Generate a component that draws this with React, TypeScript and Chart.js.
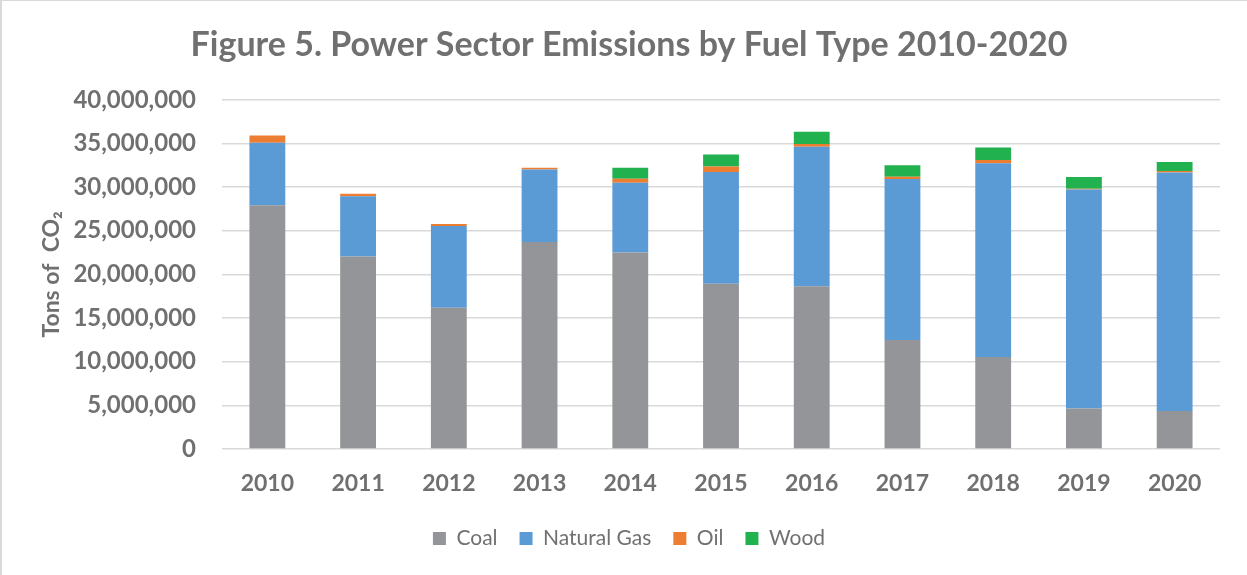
import React, { useEffect, useRef } from "react";
import { Chart, registerables } from "chart.js";

Chart.register(...registerables);

const years = ["2010", "2011", "2012", "2013", "2014", "2015", "2016", "2017", "2018", "2019", "2020"];
const coal = [27930000, 22050000, 16180000, 23700000, 22510000, 18940000, 18630000, 12490000, 10530000, 4650000, 4340000];
const naturalGas = [7140000, 6910000, 9360000, 8330000, 7990000, 12790000, 15980000, 18430000, 22190000, 25070000, 27340000];
const oil = [840000, 270000, 230000, 190000, 460000, 640000, 340000, 270000, 390000, 100000, 160000];
const wood = [0, 0, 0, 0, 1270000, 1350000, 1390000, 1300000, 1420000, 1330000, 1040000];

const TEXT = "#707070";
const FONT = "Lato, 'Open Sans', sans-serif";

export default function App() {
  const ref = useRef<HTMLCanvasElement | null>(null);

  useEffect(() => {
    if (!ref.current) return;
    const chart = new Chart(ref.current, {
      type: "bar",
      data: {
        labels: years,
        datasets: [
          { label: "Coal", data: coal, backgroundColor: "#939598" },
          { label: "Natural Gas", data: naturalGas, backgroundColor: "#5b9bd5" },
          { label: "Oil", data: oil, backgroundColor: "#ed7d31" },
          { label: "Wood", data: wood, backgroundColor: "#21b14f" },
        ],
      },
      options: {
        responsive: false,
        animation: false,
        devicePixelRatio: 1,
        datasets: { bar: { categoryPercentage: 1, barPercentage: 0.395 } },
        layout: { padding: { left: 38, right: 27, top: 0, bottom: 16 } },
        plugins: {
          title: {
            display: true,
            text: "Figure 5. Power Sector Emissions by Fuel Type 2010-2020",
            color: TEXT,
            font: { family: FONT, size: 34, weight: "bold" },
            padding: { top: 25, bottom: 34 },
          },
          legend: {
            position: "bottom",
            labels: {
              color: TEXT,
              font: { family: FONT, size: 21 },
              boxWidth: 13,
              boxHeight: 13,
              padding: 22,
            },
          },
          tooltip: { enabled: false },
        },
        scales: {
          x: {
            stacked: true,
            grid: { display: false },
            border: { display: false },
            ticks: {
              color: TEXT,
              font: { family: FONT, size: 23, weight: "bold" },
              padding: 13,
            },
            afterFit: (scale: any) => {
              scale.height = 57;
            },
          },
          y: {
            stacked: true,
            min: 0,
            max: 40000000,
            border: { display: false },
            grid: { color: "#d9d9d9", lineWidth: 1.5, drawTicks: false },
            ticks: {
              stepSize: 5000000,
              color: TEXT,
              font: { family: FONT, size: 24, weight: "bold" },
              padding: 26,
              callback: (v: any) => Number(v).toLocaleString("en-US"),
            },
            title: {
              display: true,
              text: "Tons of  CO₂",
              color: TEXT,
              font: { family: FONT, size: 23, weight: "bold" },
              padding: { top: 0, bottom: 0 },
            },
            afterFit: (scale: any) => {
              scale.width = 184;
            },
          },
        },
      },
    });
    return () => chart.destroy();
  }, []);

  return (
    <div style={{ position: "fixed", left: 0, top: 0, width: 1247, height: 575, background: "#fff" }}>
      <canvas ref={ref} width={1247} height={575} style={{ position: "absolute", left: 0, top: 0, width: 1247, height: 575 }} />
      <div
        style={{
          position: "absolute",
          left: 0,
          top: 0,
          width: 1260,
          height: 590,
          borderTop: "1px solid #d9d9d9",
          borderLeft: "2px solid #d9d9d9",
          pointerEvents: "none",
        }}
      />
    </div>
  );
}
